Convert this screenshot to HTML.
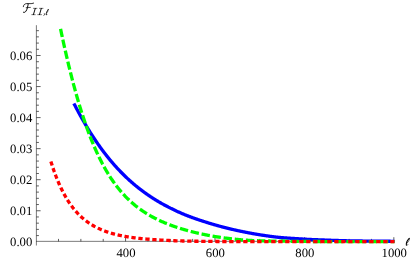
<!DOCTYPE html>
<html><head><title>F II,l plot</title><meta charset="utf-8"><style>
html,body{margin:0;padding:0;background:#fff;}
svg{display:block}
text{font-family:"Liberation Serif",serif;font-size:12.7px;fill:#000}
</style></head><body>
<svg width="420" height="260" viewBox="0 0 420 260">
<rect width="420" height="260" fill="#fff"/>
<g style="text-rendering:geometricPrecision;filter:grayscale(1)">
<text x="125.97" y="257" text-anchor="middle">400</text>
<text x="215.39" y="257" text-anchor="middle">600</text>
<text x="304.81" y="257" text-anchor="middle">800</text>
<text x="394.23" y="257" text-anchor="middle">1000</text>
<text x="32.3" y="246.30" text-anchor="end">0.00</text>
<text x="32.3" y="215.25" text-anchor="end">0.01</text>
<text x="32.3" y="184.20" text-anchor="end">0.02</text>
<text x="32.3" y="153.15" text-anchor="end">0.03</text>
<text x="32.3" y="122.10" text-anchor="end">0.04</text>
<text x="32.3" y="91.05" text-anchor="end">0.05</text>
<text x="32.3" y="60.00" text-anchor="end">0.06</text>
</g>
<g stroke="#333" stroke-width="0.65" fill="none">
<line x1="36" y1="241.35" x2="394.3" y2="241.35"/>
<line x1="36.4" y1="245.5" x2="36.4" y2="25.2"/>
</g>
<g stroke="#1a1a1a" stroke-width="0.7" fill="none">
<line x1="58.50" y1="241.40" x2="58.50" y2="238.90"/>
<line x1="80.86" y1="241.40" x2="80.86" y2="238.90"/>
<line x1="103.21" y1="241.40" x2="103.21" y2="238.90"/>
<line x1="125.57" y1="241.40" x2="125.57" y2="237.20"/>
<line x1="147.92" y1="241.40" x2="147.92" y2="238.90"/>
<line x1="170.28" y1="241.40" x2="170.28" y2="238.90"/>
<line x1="192.63" y1="241.40" x2="192.63" y2="238.90"/>
<line x1="214.99" y1="241.40" x2="214.99" y2="237.20"/>
<line x1="237.34" y1="241.40" x2="237.34" y2="238.90"/>
<line x1="259.70" y1="241.40" x2="259.70" y2="238.90"/>
<line x1="282.05" y1="241.40" x2="282.05" y2="238.90"/>
<line x1="304.41" y1="241.40" x2="304.41" y2="237.20"/>
<line x1="326.76" y1="241.40" x2="326.76" y2="238.90"/>
<line x1="349.12" y1="241.40" x2="349.12" y2="238.90"/>
<line x1="371.48" y1="241.40" x2="371.48" y2="238.90"/>
<line x1="393.83" y1="241.40" x2="393.83" y2="237.20"/>
<line x1="36.40" y1="235.59" x2="38.90" y2="235.59"/>
<line x1="36.40" y1="229.38" x2="38.90" y2="229.38"/>
<line x1="36.40" y1="223.17" x2="38.90" y2="223.17"/>
<line x1="36.40" y1="216.96" x2="38.90" y2="216.96"/>
<line x1="36.40" y1="210.75" x2="40.60" y2="210.75"/>
<line x1="36.40" y1="204.54" x2="38.90" y2="204.54"/>
<line x1="36.40" y1="198.33" x2="38.90" y2="198.33"/>
<line x1="36.40" y1="192.12" x2="38.90" y2="192.12"/>
<line x1="36.40" y1="185.91" x2="38.90" y2="185.91"/>
<line x1="36.40" y1="179.70" x2="40.60" y2="179.70"/>
<line x1="36.40" y1="173.49" x2="38.90" y2="173.49"/>
<line x1="36.40" y1="167.28" x2="38.90" y2="167.28"/>
<line x1="36.40" y1="161.07" x2="38.90" y2="161.07"/>
<line x1="36.40" y1="154.86" x2="38.90" y2="154.86"/>
<line x1="36.40" y1="148.65" x2="40.60" y2="148.65"/>
<line x1="36.40" y1="142.44" x2="38.90" y2="142.44"/>
<line x1="36.40" y1="136.23" x2="38.90" y2="136.23"/>
<line x1="36.40" y1="130.02" x2="38.90" y2="130.02"/>
<line x1="36.40" y1="123.81" x2="38.90" y2="123.81"/>
<line x1="36.40" y1="117.60" x2="40.60" y2="117.60"/>
<line x1="36.40" y1="111.39" x2="38.90" y2="111.39"/>
<line x1="36.40" y1="105.18" x2="38.90" y2="105.18"/>
<line x1="36.40" y1="98.97" x2="38.90" y2="98.97"/>
<line x1="36.40" y1="92.76" x2="38.90" y2="92.76"/>
<line x1="36.40" y1="86.55" x2="40.60" y2="86.55"/>
<line x1="36.40" y1="80.34" x2="38.90" y2="80.34"/>
<line x1="36.40" y1="74.13" x2="38.90" y2="74.13"/>
<line x1="36.40" y1="67.92" x2="38.90" y2="67.92"/>
<line x1="36.40" y1="61.71" x2="38.90" y2="61.71"/>
<line x1="36.40" y1="55.50" x2="40.60" y2="55.50"/>
<line x1="36.40" y1="49.29" x2="38.90" y2="49.29"/>
<line x1="36.40" y1="43.08" x2="38.90" y2="43.08"/>
<line x1="36.40" y1="36.87" x2="38.90" y2="36.87"/>
<line x1="36.40" y1="30.66" x2="38.90" y2="30.66"/>
</g>
<g fill="none" stroke-width="3.3">
<path d="M73.86,103.42 L74.36,104.39 L74.86,105.36 L75.36,106.32 L75.86,107.27 L76.36,108.22 L76.86,109.16 L77.36,110.10 L77.86,111.03 L78.36,111.95 L78.86,112.87 L79.36,113.79 L79.86,114.70 L80.36,115.60 L80.86,116.50 L81.36,117.39 L81.86,118.28 L82.36,119.17 L82.86,120.04 L83.36,120.91 L83.86,121.78 L84.36,122.64 L84.86,123.50 L85.36,124.35 L85.86,125.19 L86.36,126.03 L86.86,126.87 L87.36,127.69 L87.86,128.52 L88.36,129.34 L88.86,130.15 L89.36,130.96 L89.86,131.76 L90.36,132.55 L90.86,133.35 L91.36,134.13 L91.86,134.91 L92.36,135.69 L92.86,136.46 L93.36,137.23 L93.86,137.99 L94.36,138.74 L94.86,139.49 L95.36,140.24 L95.86,140.98 L96.36,141.71 L96.86,142.44 L97.36,143.17 L97.86,143.89 L98.36,144.60 L98.86,145.31 L99.36,146.02 L99.86,146.72 L100.36,147.41 L100.86,148.10 L101.36,148.79 L101.86,149.47 L102.36,150.15 L102.86,150.82 L103.36,151.48 L103.86,152.15 L104.36,152.80 L104.86,153.45 L105.36,154.10 L105.86,154.75 L106.36,155.38 L106.86,156.02 L107.36,156.65 L107.86,157.27 L108.36,157.89 L108.86,158.51 L109.36,159.12 L109.86,159.73 L110.36,160.33 L110.86,160.93 L111.36,161.52 L111.86,162.11 L112.36,162.69 L112.86,163.28 L113.36,163.85 L113.86,164.42 L114.36,164.99 L114.86,165.56 L115.36,166.12 L115.86,166.67 L116.36,167.22 L116.86,167.77 L117.36,168.31 L117.86,168.85 L118.36,169.39 L118.86,169.92 L119.36,170.45 L119.86,170.97 L120.36,171.49 L120.86,172.01 L121.36,172.52 L121.86,173.03 L122.36,173.53 L122.86,174.03 L123.36,174.53 L123.86,175.02 L124.36,175.51 L124.86,176.00 L125.36,176.48 L125.86,176.96 L126.36,177.44 L126.86,177.91 L127.36,178.38 L127.86,178.84 L128.36,179.30 L128.86,179.76 L129.36,180.22 L129.86,180.67 L130.36,181.11 L130.86,181.56 L131.36,182.00 L131.86,182.44 L132.36,182.87 L132.86,183.30 L133.36,183.73 L133.86,184.16 L134.36,184.58 L134.86,185.00 L135.36,185.41 L135.86,185.83 L136.36,186.23 L136.86,186.64 L137.36,187.04 L137.86,187.44 L138.36,187.84 L138.86,188.24 L139.36,188.63 L139.86,189.02 L140.36,189.40 L140.86,189.79 L141.36,190.17 L141.86,190.54 L142.36,190.92 L142.86,191.29 L143.36,191.66 L143.86,192.02 L144.36,192.39 L144.86,192.75 L145.36,193.11 L145.86,193.46 L146.36,193.82 L146.86,194.17 L147.36,194.52 L147.86,194.86 L148.36,195.20 L148.86,195.54 L149.36,195.88 L149.86,196.22 L150.36,196.55 L150.86,196.88 L151.36,197.21 L151.86,197.54 L152.36,197.86 L152.86,198.18 L153.36,198.50 L153.86,198.82 L154.36,199.13 L154.86,199.44 L155.36,199.75 L155.86,200.06 L156.36,200.37 L156.86,200.67 L157.36,200.97 L157.86,201.27 L158.36,201.57 L158.86,201.86 L159.36,202.16 L159.86,202.45 L160.36,202.73 L160.86,203.02 L161.36,203.31 L161.86,203.59 L162.36,203.87 L162.86,204.15 L163.36,204.43 L163.86,204.70 L164.36,204.97 L164.86,205.24 L165.36,205.51 L165.86,205.78 L166.36,206.05 L166.86,206.31 L167.36,206.57 L167.86,206.83 L168.36,207.09 L168.86,207.35 L169.36,207.60 L169.86,207.86 L170.36,208.11 L170.86,208.36 L171.36,208.60 L171.86,208.85 L172.36,209.10 L172.86,209.34 L173.36,209.58 L173.86,209.82 L174.36,210.06 L174.86,210.29 L175.36,210.53 L175.86,210.76 L176.36,210.99 L176.86,211.23 L177.36,211.45 L177.86,211.68 L178.36,211.91 L178.86,212.13 L179.36,212.36 L179.86,212.58 L180.36,212.80 L180.86,213.02 L181.36,213.24 L181.86,213.45 L182.36,213.67 L182.86,213.88 L183.36,214.09 L183.86,214.30 L184.36,214.50 L184.86,214.71 L185.36,214.91 L185.86,215.11 L186.36,215.31 L186.86,215.51 L187.36,215.70 L187.86,215.90 L188.36,216.09 L188.86,216.28 L189.36,216.47 L189.86,216.66 L190.36,216.85 L190.86,217.03 L191.36,217.22 L191.86,217.40 L192.36,217.59 L192.86,217.77 L193.36,217.95 L193.86,218.13 L194.36,218.30 L194.86,218.48 L195.36,218.66 L195.86,218.83 L196.36,219.01 L196.86,219.18 L197.36,219.35 L197.86,219.52 L198.36,219.69 L198.86,219.86 L199.36,220.02 L199.86,220.19 L200.36,220.35 L200.86,220.52 L201.36,220.68 L201.86,220.84 L202.36,221.00 L202.86,221.16 L203.36,221.32 L203.86,221.48 L204.36,221.64 L204.86,221.80 L205.36,221.96 L205.86,222.12 L206.36,222.28 L206.86,222.44 L207.36,222.59 L207.86,222.75 L208.36,222.91 L208.86,223.06 L209.36,223.21 L209.86,223.37 L210.36,223.52 L210.86,223.67 L211.36,223.82 L211.86,223.97 L212.36,224.12 L212.86,224.27 L213.36,224.41 L213.86,224.56 L214.36,224.70 L214.86,224.85 L215.36,224.99 L215.86,225.13 L216.36,225.28 L216.86,225.42 L217.36,225.56 L217.86,225.70 L218.36,225.83 L218.86,225.97 L219.36,226.11 L219.86,226.24 L220.36,226.38 L220.86,226.51 L221.36,226.65 L221.86,226.78 L222.36,226.91 L222.86,227.04 L223.36,227.17 L223.86,227.30 L224.36,227.43 L224.86,227.56 L225.36,227.69 L225.86,227.81 L226.36,227.94 L226.86,228.07 L227.36,228.19 L227.86,228.31 L228.36,228.44 L228.86,228.56 L229.36,228.68 L229.86,228.80 L230.36,228.92 L230.86,229.04 L231.36,229.16 L231.86,229.28 L232.36,229.39 L232.86,229.51 L233.36,229.63 L233.86,229.74 L234.36,229.85 L234.86,229.97 L235.36,230.08 L235.86,230.19 L236.36,230.30 L236.86,230.41 L237.36,230.52 L237.86,230.63 L238.36,230.74 L238.86,230.85 L239.36,230.96 L239.86,231.06 L240.36,231.17 L240.86,231.27 L241.36,231.38 L241.86,231.48 L242.36,231.59 L242.86,231.69 L243.36,231.79 L243.86,231.89 L244.36,231.99 L244.86,232.09 L245.36,232.19 L245.86,232.29 L246.36,232.39 L246.86,232.48 L247.36,232.58 L247.86,232.68 L248.36,232.77 L248.86,232.87 L249.36,232.96 L249.86,233.05 L250.36,233.14 L250.86,233.24 L251.36,233.33 L251.86,233.42 L252.36,233.51 L252.86,233.60 L253.36,233.69 L253.86,233.77 L254.36,233.86 L254.86,233.95 L255.36,234.03 L255.86,234.12 L256.36,234.20 L256.86,234.29 L257.36,234.37 L257.86,234.45 L258.36,234.54 L258.86,234.62 L259.36,234.70 L259.86,234.78 L260.36,234.86 L260.86,234.94 L261.36,235.02 L261.86,235.09 L262.36,235.17 L262.86,235.25 L263.36,235.32 L263.86,235.40 L264.36,235.47 L264.86,235.55 L265.36,235.62 L265.86,235.70 L266.36,235.77 L266.86,235.84 L267.36,235.92 L267.86,235.99 L268.36,236.06 L268.86,236.13 L269.36,236.20 L269.86,236.27 L270.36,236.34 L270.86,236.40 L271.36,236.47 L271.86,236.53 L272.36,236.60 L272.86,236.66 L273.36,236.72 L273.86,236.79 L274.36,236.85 L274.86,236.91 L275.36,236.96 L275.86,237.02 L276.36,237.08 L276.86,237.13 L277.36,237.19 L277.86,237.24 L278.36,237.29 L278.86,237.34 L279.36,237.39 L279.86,237.44 L280.36,237.48 L280.86,237.53 L281.36,237.57 L281.86,237.62 L282.36,237.66 L282.86,237.70 L283.36,237.74 L283.86,237.78 L284.36,237.82 L284.86,237.86 L285.36,237.90 L285.86,237.93 L286.36,237.97 L286.86,238.01 L287.36,238.04 L287.86,238.08 L288.36,238.11 L288.86,238.15 L289.36,238.18 L289.86,238.21 L290.36,238.25 L290.86,238.28 L291.36,238.31 L291.86,238.34 L292.36,238.37 L292.86,238.41 L293.36,238.44 L293.86,238.47 L294.36,238.50 L294.86,238.53 L295.36,238.56 L295.86,238.59 L296.36,238.62 L296.86,238.66 L297.36,238.69 L297.86,238.72 L298.36,238.75 L298.86,238.78 L299.36,238.81 L299.86,238.84 L300.36,238.87 L300.86,238.90 L301.36,238.94 L301.86,238.97 L302.36,239.00 L302.86,239.03 L303.36,239.07 L303.86,239.10 L304.36,239.13 L304.86,239.16 L305.36,239.19 L305.86,239.22 L306.36,239.25 L306.86,239.28 L307.36,239.31 L307.86,239.34 L308.36,239.37 L308.86,239.39 L309.36,239.42 L309.86,239.44 L310.36,239.47 L310.86,239.49 L311.36,239.51 L311.86,239.53 L312.36,239.56 L312.86,239.58 L313.36,239.60 L313.86,239.62 L314.36,239.64 L314.86,239.65 L315.36,239.67 L315.86,239.69 L316.36,239.71 L316.86,239.73 L317.36,239.75 L317.86,239.77 L318.36,239.79 L318.86,239.81 L319.36,239.83 L319.86,239.84 L320.36,239.86 L320.86,239.88 L321.36,239.90 L321.86,239.92 L322.36,239.94 L322.86,239.96 L323.36,239.98 L323.86,240.00 L324.36,240.02 L324.86,240.04 L325.36,240.06 L325.86,240.08 L326.36,240.09 L326.86,240.11 L327.36,240.13 L327.86,240.15 L328.36,240.17 L328.86,240.19 L329.36,240.20 L329.86,240.22 L330.36,240.24 L330.86,240.26 L331.36,240.28 L331.86,240.29 L332.36,240.31 L332.86,240.33 L333.36,240.34 L333.86,240.36 L334.36,240.38 L334.86,240.40 L335.36,240.41 L335.86,240.43 L336.36,240.45 L336.86,240.46 L337.36,240.48 L337.86,240.50 L338.36,240.52 L338.86,240.53 L339.36,240.55 L339.86,240.57 L340.36,240.59 L340.86,240.60 L341.36,240.62 L341.86,240.64 L342.36,240.65 L342.86,240.67 L343.36,240.68 L343.86,240.70 L344.36,240.71 L344.86,240.73 L345.36,240.74 L345.86,240.76 L346.36,240.77 L346.86,240.78 L347.36,240.79 L347.86,240.81 L348.36,240.82 L348.86,240.83 L349.36,240.84 L349.86,240.85 L350.36,240.86 L350.86,240.87 L351.36,240.87 L351.86,240.88 L352.36,240.89 L352.86,240.90 L353.36,240.91 L353.86,240.91 L354.36,240.92 L354.86,240.93 L355.36,240.94 L355.86,240.94 L356.36,240.95 L356.86,240.96 L357.36,240.96 L357.86,240.97 L358.36,240.97 L358.86,240.98 L359.36,240.99 L359.86,240.99 L360.36,241.00 L360.86,241.00 L361.36,241.01 L361.86,241.02 L362.36,241.02 L362.86,241.03 L363.36,241.03 L363.86,241.04 L364.36,241.04 L364.86,241.05 L365.36,241.05 L365.86,241.06 L366.36,241.06 L366.86,241.07 L367.36,241.07 L367.86,241.08 L368.36,241.08 L368.86,241.09 L369.36,241.09 L369.86,241.10 L370.36,241.10 L370.86,241.11 L371.36,241.11 L371.86,241.12 L372.36,241.12 L372.86,241.13 L373.36,241.13 L373.86,241.14 L374.36,241.14 L374.86,241.15 L375.36,241.15 L375.86,241.16 L376.36,241.16 L376.86,241.17 L377.36,241.17 L377.86,241.17 L378.36,241.18 L378.86,241.18 L379.36,241.19 L379.86,241.19 L380.36,241.20 L380.86,241.20 L381.36,241.20 L381.86,241.21 L382.36,241.21 L382.86,241.22 L383.36,241.22 L383.86,241.22 L384.36,241.23 L384.86,241.23 L385.36,241.24 L385.86,241.24 L386.36,241.24 L386.86,241.25 L387.36,241.25 L387.86,241.25 L388.36,241.26 L388.86,241.26 L389.36,241.27 L389.86,241.27 L390.36,241.27 L390.86,241.28 L391.36,241.28 L391.86,241.28 L392.36,241.29 L392.86,241.29 L393.36,241.29 L393.86,241.30 L394.36,241.30 L394.50,241.30" stroke="#0000ff"/>
<path d="M60.53,28.80 L61.03,31.18 L61.53,33.54 L62.03,35.88 L62.53,38.20 L63.03,40.50 L63.53,42.78 L64.03,45.04 L64.53,47.28 L65.03,49.51 L65.53,51.71 L66.03,53.89 L66.53,56.06 L67.03,58.20 L67.53,60.33 L68.03,62.44 L68.53,64.53 L69.03,66.60 L69.53,68.64 L70.03,70.67 L70.53,72.68 L71.03,74.66 L71.53,76.63 L72.03,78.58 L72.53,80.51 L73.03,82.42 L73.53,84.31 L74.03,86.19 L74.53,88.04 L75.03,89.87 L75.53,91.68 L76.03,93.47 L76.53,95.25 L77.03,97.00 L77.53,98.74 L78.03,100.46 L78.53,102.16 L79.03,103.84 L79.53,105.50 L80.03,107.14 L80.53,108.76 L81.03,110.37 L81.53,111.95 L82.03,113.52 L82.53,115.07 L83.03,116.61 L83.53,118.12 L84.03,119.62 L84.53,121.10 L85.03,122.57 L85.53,124.01 L86.03,125.44 L86.53,126.85 L87.03,128.25 L87.53,129.62 L88.03,130.99 L88.53,132.33 L89.03,133.66 L89.53,134.98 L90.03,136.27 L90.53,137.55 L91.03,138.82 L91.53,140.07 L92.03,141.30 L92.53,142.52 L93.03,143.73 L93.53,144.92 L94.03,146.09 L94.53,147.26 L95.03,148.40 L95.53,149.53 L96.03,150.65 L96.53,151.75 L97.03,152.84 L97.53,153.92 L98.03,154.98 L98.53,156.03 L99.03,157.06 L99.53,158.09 L100.03,159.10 L100.53,160.09 L101.03,161.07 L101.53,162.05 L102.03,163.00 L102.53,163.95 L103.03,164.89 L103.53,165.81 L104.03,166.72 L104.53,167.62 L105.03,168.51 L105.53,169.38 L106.03,170.25 L106.53,171.10 L107.03,171.94 L107.53,172.77 L108.03,173.59 L108.53,174.40 L109.03,175.20 L109.53,175.99 L110.03,176.77 L110.53,177.54 L111.03,178.30 L111.53,179.05 L112.03,179.79 L112.53,180.52 L113.03,181.24 L113.53,181.95 L114.03,182.66 L114.53,183.35 L115.03,184.03 L115.53,184.71 L116.03,185.38 L116.53,186.03 L117.03,186.68 L117.53,187.32 L118.03,187.96 L118.53,188.58 L119.03,189.20 L119.53,189.81 L120.03,190.41 L120.53,191.00 L121.03,191.59 L121.53,192.17 L122.03,192.74 L122.53,193.30 L123.03,193.86 L123.53,194.41 L124.03,194.95 L124.53,195.48 L125.03,196.01 L125.53,196.54 L126.03,197.05 L126.53,197.56 L127.03,198.06 L127.53,198.56 L128.03,199.05 L128.53,199.53 L129.03,200.01 L129.53,200.48 L130.03,200.95 L130.53,201.41 L131.03,201.86 L131.53,202.31 L132.03,202.75 L132.53,203.19 L133.03,203.62 L133.53,204.05 L134.03,204.47 L134.53,204.88 L135.03,205.30 L135.53,205.70 L136.03,206.10 L136.53,206.50 L137.03,206.89 L137.53,207.28 L138.03,207.66 L138.53,208.04 L139.03,208.41 L139.53,208.78 L140.03,209.14 L140.53,209.50 L141.03,209.86 L141.53,210.21 L142.03,210.56 L142.53,210.90 L143.03,211.24 L143.53,211.57 L144.03,211.90 L144.53,212.23 L145.03,212.55 L145.53,212.87 L146.03,213.19 L146.53,213.50 L147.03,213.81 L147.53,214.12 L148.03,214.42 L148.53,214.72 L149.03,215.01 L149.53,215.30 L150.03,215.59 L150.53,215.88 L151.03,216.16 L151.53,216.44 L152.03,216.71 L152.53,216.98 L153.03,217.25 L153.53,217.52 L154.03,217.78 L154.53,218.05 L155.03,218.30 L155.53,218.56 L156.03,218.81 L156.53,219.06 L157.03,219.31 L157.53,219.55 L158.03,219.79 L158.53,220.03 L159.03,220.27 L159.53,220.51 L160.03,220.74 L160.53,220.97 L161.03,221.19 L161.53,221.42 L162.03,221.64 L162.53,221.86 L163.03,222.08 L163.53,222.30 L164.03,222.51 L164.53,222.72 L165.03,222.93 L165.53,223.14 L166.03,223.34 L166.53,223.55 L167.03,223.75 L167.53,223.95 L168.03,224.14 L168.53,224.34 L169.03,224.53 L169.53,224.72 L170.03,224.91 L170.53,225.10 L171.03,225.29 L171.53,225.47 L172.03,225.65 L172.53,225.83 L173.03,226.01 L173.53,226.19 L174.03,226.37 L174.53,226.54 L175.03,226.71 L175.53,226.88 L176.03,227.05 L176.53,227.22 L177.03,227.39 L177.53,227.55 L178.03,227.72 L178.53,227.88 L179.03,228.04 L179.53,228.20 L180.03,228.35 L180.53,228.51 L181.03,228.67 L181.53,228.82 L182.03,228.97 L182.53,229.12 L183.03,229.27 L183.53,229.42 L184.03,229.57 L184.53,229.71 L185.03,229.85 L185.53,230.00 L186.03,230.14 L186.53,230.28 L187.03,230.42 L187.53,230.56 L188.03,230.69 L188.53,230.83 L189.03,230.96 L189.53,231.10 L190.03,231.23 L190.53,231.36 L191.03,231.49 L191.53,231.62 L192.03,231.74 L192.53,231.87 L193.03,232.00 L193.53,232.12 L194.03,232.24 L194.53,232.37 L195.03,232.49 L195.53,232.61 L196.03,232.73 L196.53,232.84 L197.03,232.96 L197.53,233.08 L198.03,233.19 L198.53,233.30 L199.03,233.42 L199.53,233.53 L200.03,233.64 L200.53,233.75 L201.03,233.86 L201.53,233.97 L202.03,234.07 L202.53,234.18 L203.03,234.28 L203.53,234.39 L204.03,234.49 L204.53,234.59 L205.03,234.69 L205.53,234.79 L206.03,234.89 L206.53,234.99 L207.03,235.09 L207.53,235.19 L208.03,235.28 L208.53,235.38 L209.03,235.47 L209.53,235.56 L210.03,235.65 L210.53,235.75 L211.03,235.84 L211.53,235.92 L212.03,236.01 L212.53,236.10 L213.03,236.19 L213.53,236.27 L214.03,236.36 L214.53,236.44 L215.03,236.52 L215.53,236.61 L216.03,236.69 L216.53,236.77 L217.03,236.85 L217.53,236.93 L218.03,237.00 L218.53,237.08 L219.03,237.16 L219.53,237.23 L220.03,237.31 L220.53,237.38 L221.03,237.45 L221.53,237.53 L222.03,237.60 L222.53,237.67 L223.03,237.74 L223.53,237.80 L224.03,237.87 L224.53,237.94 L225.03,238.01 L225.53,238.07 L226.03,238.13 L226.53,238.20 L227.03,238.26 L227.53,238.32 L228.03,238.38 L228.53,238.44 L229.03,238.50 L229.53,238.56 L230.03,238.62 L230.53,238.68 L231.03,238.74 L231.53,238.80 L232.03,238.85 L232.53,238.91 L233.03,238.97 L233.53,239.03 L234.03,239.08 L234.53,239.14 L235.03,239.19 L235.53,239.25 L236.03,239.30 L236.53,239.35 L237.03,239.40 L237.53,239.45 L238.03,239.50 L238.53,239.55 L239.03,239.60 L239.53,239.64 L240.03,239.69 L240.53,239.73 L241.03,239.78 L241.53,239.82 L242.03,239.86 L242.53,239.90 L243.03,239.94 L243.53,239.98 L244.03,240.02 L244.53,240.06 L245.03,240.09 L245.53,240.13 L246.03,240.16 L246.53,240.20 L247.03,240.23 L247.53,240.26 L248.03,240.29 L248.53,240.32 L249.03,240.35 L249.53,240.37 L250.03,240.40 L250.53,240.43 L251.03,240.45 L251.53,240.48 L252.03,240.50 L252.53,240.53 L253.03,240.55 L253.53,240.58 L254.03,240.60 L254.53,240.62 L255.03,240.64 L255.53,240.67 L256.03,240.69 L256.53,240.71 L257.03,240.72 L257.53,240.74 L258.03,240.76 L258.53,240.78 L259.03,240.79 L259.53,240.81 L260.03,240.82 L260.53,240.83 L261.03,240.85 L261.53,240.86 L262.03,240.87 L262.53,240.88 L263.03,240.89 L263.53,240.90 L264.03,240.91 L264.53,240.92 L265.03,240.93 L265.53,240.94 L266.03,240.95 L266.53,240.96 L267.03,240.97 L267.53,240.98 L268.03,240.99 L268.53,241.00 L269.03,241.00 L269.53,241.01 L270.03,241.02 L270.53,241.03 L271.03,241.04 L271.53,241.04 L272.03,241.05 L272.53,241.06 L273.03,241.07 L273.53,241.07 L274.03,241.08 L274.53,241.09 L275.03,241.09 L275.53,241.10 L276.03,241.11 L276.53,241.11 L277.03,241.12 L277.53,241.13 L278.03,241.13 L278.53,241.14 L279.03,241.15 L279.53,241.15 L280.03,241.16 L280.53,241.16 L281.03,241.17 L281.53,241.18 L282.03,241.18 L282.53,241.19 L283.03,241.19 L283.53,241.20 L284.03,241.21 L284.53,241.21 L285.03,241.22 L285.53,241.23 L286.03,241.23 L286.53,241.24 L287.03,241.25 L287.53,241.25 L288.03,241.26 L288.53,241.27 L289.03,241.27 L289.53,241.28 L290.03,241.29 L290.53,241.29 L291.03,241.30 L291.53,241.31 L292.03,241.31 L292.53,241.32 L293.03,241.33 L293.53,241.33 L294.03,241.34 L294.53,241.34 L295.03,241.35 L295.53,241.36 L296.03,241.36 L296.53,241.37 L297.03,241.37 L297.53,241.38 L298.03,241.38 L298.53,241.39 L299.03,241.39 L299.53,241.40 L300.03,241.40 L300.53,241.40 L301.03,241.41 L301.53,241.41 L302.03,241.42 L302.53,241.42 L303.03,241.43 L303.53,241.43 L304.03,241.43 L304.53,241.44 L305.03,241.44 L305.53,241.44 L306.03,241.45 L306.53,241.45 L307.03,241.45 L307.53,241.46 L308.03,241.46 L308.53,241.46 L309.03,241.47 L309.53,241.47 L310.03,241.47 L310.53,241.48 L311.03,241.48 L311.53,241.48 L312.03,241.49 L312.53,241.49 L313.03,241.49 L313.53,241.49 L314.03,241.50 L314.53,241.50 L315.03,241.50 L315.53,241.50 L316.03,241.51 L316.53,241.51 L317.03,241.51 L317.53,241.51 L318.03,241.51 L318.53,241.52 L319.03,241.52 L319.53,241.52 L320.03,241.52 L320.53,241.52 L321.03,241.53 L321.53,241.53 L322.03,241.53 L322.53,241.53 L323.03,241.53 L323.53,241.53 L324.03,241.53 L324.53,241.54 L325.03,241.54 L325.53,241.54 L326.03,241.54 L326.53,241.54 L327.03,241.54 L327.53,241.54 L328.03,241.55 L328.53,241.55 L329.03,241.55 L329.53,241.55 L330.03,241.55 L330.53,241.55 L331.03,241.55 L331.53,241.55 L332.03,241.55 L332.53,241.56 L333.03,241.56 L333.53,241.56 L334.03,241.56 L334.53,241.56 L335.03,241.56 L335.53,241.56 L336.03,241.56 L336.53,241.56 L337.03,241.56 L337.53,241.56 L338.03,241.56 L338.53,241.57 L339.03,241.57 L339.53,241.57 L340.03,241.57 L340.53,241.57 L341.03,241.57 L341.53,241.57 L342.03,241.57 L342.53,241.57 L343.03,241.57 L343.53,241.57 L344.03,241.57 L344.53,241.57 L345.03,241.57 L345.53,241.57 L346.03,241.57 L346.53,241.58 L347.03,241.58 L347.53,241.58 L348.03,241.58 L348.53,241.58 L349.03,241.58 L349.53,241.58 L350.03,241.58 L350.53,241.58 L351.03,241.58 L351.53,241.58 L352.03,241.58 L352.53,241.58 L353.03,241.58 L353.53,241.58 L354.03,241.58 L354.53,241.58 L355.03,241.58 L355.53,241.58 L356.03,241.58 L356.53,241.58 L357.03,241.58 L357.53,241.58 L358.03,241.58 L358.53,241.58 L359.03,241.58 L359.53,241.59 L360.03,241.59 L360.53,241.59 L361.03,241.59 L361.53,241.59 L362.03,241.59 L362.53,241.59 L363.03,241.59 L363.53,241.59 L364.03,241.59 L364.53,241.59 L365.03,241.59 L365.53,241.59 L366.03,241.59 L366.53,241.59 L367.03,241.59 L367.53,241.59 L368.03,241.59 L368.53,241.59 L369.03,241.59 L369.53,241.59 L370.03,241.59 L370.53,241.59 L371.03,241.59 L371.53,241.59 L372.03,241.59 L372.53,241.59 L373.03,241.59 L373.53,241.59 L374.03,241.59 L374.53,241.59 L375.03,241.59 L375.53,241.59 L376.03,241.59 L376.53,241.59 L377.03,241.59 L377.53,241.59 L378.03,241.59 L378.53,241.59 L379.03,241.59 L379.53,241.59 L380.03,241.59 L380.53,241.59 L381.03,241.59 L381.53,241.59 L382.03,241.59 L382.53,241.59 L383.03,241.59 L383.53,241.59 L384.03,241.59 L384.53,241.59 L385.03,241.59 L385.53,241.59 L386.03,241.59 L386.53,241.59 L387.03,241.59 L387.53,241.59 L388.03,241.59 L388.53,241.60 L389.03,241.60 L389.53,241.60 L390.03,241.60 L390.53,241.60 L391.03,241.60 L391.53,241.60 L392.03,241.60 L392.53,241.60 L393.03,241.60 L393.53,241.60 L394.03,241.60 L394.50,241.60" stroke="#00ff00" stroke-dasharray="8.4 2.77"/>
<path d="M50.87,161.45 L51.37,163.05 L51.87,164.61 L52.37,166.14 L52.87,167.64 L53.37,169.11 L53.87,170.54 L54.37,171.95 L54.87,173.32 L55.37,174.67 L55.87,175.98 L56.37,177.27 L56.87,178.54 L57.37,179.77 L57.87,180.98 L58.37,182.17 L58.87,183.33 L59.37,184.46 L59.87,185.58 L60.37,186.67 L60.87,187.73 L61.37,188.78 L61.87,189.80 L62.37,190.80 L62.87,191.78 L63.37,192.74 L63.87,193.68 L64.37,194.61 L64.87,195.51 L65.37,196.39 L65.87,197.26 L66.37,198.11 L66.87,198.94 L67.37,199.75 L67.87,200.55 L68.37,201.33 L68.87,202.10 L69.37,202.85 L69.87,203.58 L70.37,204.31 L70.87,205.01 L71.37,205.70 L71.87,206.38 L72.37,207.04 L72.87,207.70 L73.37,208.33 L73.87,208.96 L74.37,209.57 L74.87,210.17 L75.37,210.76 L75.87,211.34 L76.37,211.90 L76.87,212.46 L77.37,213.00 L77.87,213.53 L78.37,214.05 L78.87,214.56 L79.37,215.07 L79.87,215.56 L80.37,216.04 L80.87,216.51 L81.37,216.98 L81.87,217.43 L82.37,217.87 L82.87,218.31 L83.37,218.74 L83.87,219.16 L84.37,219.57 L84.87,219.97 L85.37,220.37 L85.87,220.76 L86.37,221.14 L86.87,221.51 L87.37,221.88 L87.87,222.24 L88.37,222.59 L88.87,222.94 L89.37,223.27 L89.87,223.61 L90.37,223.93 L90.87,224.25 L91.37,224.57 L91.87,224.87 L92.37,225.17 L92.87,225.47 L93.37,225.76 L93.87,226.05 L94.37,226.33 L94.87,226.60 L95.37,226.87 L95.87,227.13 L96.37,227.39 L96.87,227.65 L97.37,227.89 L97.87,228.14 L98.37,228.38 L98.87,228.61 L99.37,228.85 L99.87,229.07 L100.37,229.29 L100.87,229.51 L101.37,229.73 L101.87,229.94 L102.37,230.14 L102.87,230.35 L103.37,230.54 L103.87,230.74 L104.37,230.93 L104.87,231.12 L105.37,231.30 L105.87,231.48 L106.37,231.66 L106.87,231.84 L107.37,232.01 L107.87,232.17 L108.37,232.34 L108.87,232.50 L109.37,232.66 L109.87,232.82 L110.37,232.97 L110.87,233.12 L111.37,233.27 L111.87,233.41 L112.37,233.55 L112.87,233.69 L113.37,233.83 L113.87,233.96 L114.37,234.10 L114.87,234.23 L115.37,234.35 L115.87,234.48 L116.37,234.60 L116.87,234.72 L117.37,234.84 L117.87,234.96 L118.37,235.07 L118.87,235.18 L119.37,235.29 L119.87,235.40 L120.37,235.50 L120.87,235.61 L121.37,235.71 L121.87,235.81 L122.37,235.91 L122.87,236.01 L123.37,236.10 L123.87,236.19 L124.37,236.29 L124.87,236.38 L125.37,236.46 L125.87,236.55 L126.37,236.64 L126.87,236.72 L127.37,236.80 L127.87,236.88 L128.37,236.96 L128.87,237.04 L129.37,237.12 L129.87,237.19 L130.37,237.26 L130.87,237.34 L131.37,237.41 L131.87,237.48 L132.37,237.55 L132.87,237.61 L133.37,237.68 L133.87,237.75 L134.37,237.81 L134.87,237.87 L135.37,237.93 L135.87,237.99 L136.37,238.05 L136.87,238.11 L137.37,238.17 L137.87,238.23 L138.37,238.28 L138.87,238.33 L139.37,238.39 L139.87,238.44 L140.37,238.49 L140.87,238.54 L141.37,238.59 L141.87,238.64 L142.37,238.69 L142.87,238.74 L143.37,238.78 L143.87,238.83 L144.37,238.87 L144.87,238.92 L145.37,238.96 L145.87,239.00 L146.37,239.04 L146.87,239.08 L147.37,239.12 L147.87,239.16 L148.37,239.20 L148.87,239.24 L149.37,239.27 L149.87,239.31 L150.37,239.35 L150.87,239.39 L151.37,239.42 L151.87,239.46 L152.37,239.50 L152.87,239.53 L153.37,239.57 L153.87,239.61 L154.37,239.64 L154.87,239.68 L155.37,239.71 L155.87,239.75 L156.37,239.78 L156.87,239.81 L157.37,239.85 L157.87,239.88 L158.37,239.91 L158.87,239.95 L159.37,239.98 L159.87,240.01 L160.37,240.04 L160.87,240.07 L161.37,240.10 L161.87,240.13 L162.37,240.16 L162.87,240.18 L163.37,240.21 L163.87,240.24 L164.37,240.27 L164.87,240.29 L165.37,240.32 L165.87,240.34 L166.37,240.37 L166.87,240.40 L167.37,240.42 L167.87,240.45 L168.37,240.47 L168.87,240.49 L169.37,240.52 L169.87,240.54 L170.37,240.56 L170.87,240.58 L171.37,240.61 L171.87,240.63 L172.37,240.65 L172.87,240.67 L173.37,240.69 L173.87,240.71 L174.37,240.73 L174.87,240.75 L175.37,240.76 L175.87,240.78 L176.37,240.80 L176.87,240.82 L177.37,240.83 L177.87,240.85 L178.37,240.86 L178.87,240.88 L179.37,240.89 L179.87,240.91 L180.37,240.92 L180.87,240.94 L181.37,240.95 L181.87,240.97 L182.37,240.98 L182.87,240.99 L183.37,241.01 L183.87,241.02 L184.37,241.03 L184.87,241.04 L185.37,241.05 L185.87,241.07 L186.37,241.08 L186.87,241.09 L187.37,241.10 L187.87,241.11 L188.37,241.12 L188.87,241.13 L189.37,241.14 L189.87,241.15 L190.37,241.16 L190.87,241.17 L191.37,241.17 L191.87,241.18 L192.37,241.19 L192.87,241.20 L193.37,241.21 L193.87,241.21 L194.37,241.22 L194.87,241.23 L195.37,241.24 L195.87,241.24 L196.37,241.25 L196.87,241.26 L197.37,241.26 L197.87,241.27 L198.37,241.28 L198.87,241.28 L199.37,241.29 L199.87,241.30 L200.37,241.31 L200.87,241.31 L201.37,241.32 L201.87,241.33 L202.37,241.33 L202.87,241.34 L203.37,241.35 L203.87,241.35 L204.37,241.36 L204.87,241.36 L205.37,241.37 L205.87,241.38 L206.37,241.38 L206.87,241.39 L207.37,241.39 L207.87,241.40 L208.37,241.40 L208.87,241.41 L209.37,241.42 L209.87,241.42 L210.37,241.43 L210.87,241.43 L211.37,241.44 L211.87,241.44 L212.37,241.44 L212.87,241.45 L213.37,241.45 L213.87,241.46 L214.37,241.46 L214.87,241.47 L215.37,241.47 L215.87,241.47 L216.37,241.48 L216.87,241.48 L217.37,241.48 L217.87,241.49 L218.37,241.49 L218.87,241.49 L219.37,241.50 L219.87,241.50 L220.37,241.50 L220.87,241.50 L221.37,241.51 L221.87,241.51 L222.37,241.51 L222.87,241.52 L223.37,241.52 L223.87,241.52 L224.37,241.52 L224.87,241.52 L225.37,241.53 L225.87,241.53 L226.37,241.53 L226.87,241.53 L227.37,241.53 L227.87,241.54 L228.37,241.54 L228.87,241.54 L229.37,241.54 L229.87,241.54 L230.37,241.55 L230.87,241.55 L231.37,241.55 L231.87,241.55 L232.37,241.55 L232.87,241.55 L233.37,241.55 L233.87,241.56 L234.37,241.56 L234.87,241.56 L235.37,241.56 L235.87,241.56 L236.37,241.56 L236.87,241.56 L237.37,241.56 L237.87,241.57 L238.37,241.57 L238.87,241.57 L239.37,241.57 L239.87,241.57 L240.37,241.57 L240.87,241.57 L241.37,241.57 L241.87,241.57 L242.37,241.57 L242.87,241.58 L243.37,241.58 L243.87,241.58 L244.37,241.58 L244.87,241.58 L245.37,241.58 L245.87,241.58 L246.37,241.58 L246.87,241.58 L247.37,241.58 L247.87,241.58 L248.37,241.58 L248.87,241.59 L249.37,241.59 L249.87,241.59 L250.37,241.59 L250.87,241.59 L251.37,241.59 L251.87,241.59 L252.37,241.59 L252.87,241.59 L253.37,241.59 L253.87,241.59 L254.37,241.59 L254.87,241.59 L255.37,241.59 L255.87,241.59 L256.37,241.59 L256.87,241.59 L257.37,241.59 L257.87,241.59 L258.37,241.59 L258.87,241.59 L259.37,241.59 L259.87,241.59 L260.37,241.59 L260.87,241.59 L261.37,241.59 L261.87,241.59 L262.37,241.59 L262.87,241.60 L263.37,241.60 L263.87,241.60 L264.37,241.60 L264.87,241.60 L265.37,241.60 L265.87,241.60 L266.37,241.60 L266.87,241.60 L267.37,241.60 L267.87,241.60 L268.37,241.60 L268.87,241.60 L269.37,241.60 L269.87,241.60 L270.37,241.60 L270.87,241.60 L271.37,241.60 L271.87,241.60 L272.37,241.60 L272.87,241.60 L273.37,241.60 L273.87,241.60 L274.37,241.60 L274.87,241.60 L275.37,241.60 L275.87,241.60 L276.37,241.60 L276.87,241.60 L277.37,241.60 L277.87,241.60 L278.37,241.60 L278.87,241.60 L279.37,241.60 L279.87,241.60 L280.37,241.60 L280.87,241.60 L281.37,241.60 L281.87,241.60 L282.37,241.60 L282.87,241.60 L283.37,241.60 L283.87,241.60 L284.37,241.60 L284.87,241.60 L285.37,241.60 L285.87,241.60 L286.37,241.60 L286.87,241.60 L287.37,241.60 L287.87,241.60 L288.37,241.60 L288.87,241.60 L289.37,241.60 L289.87,241.60 L290.37,241.60 L290.87,241.60 L291.37,241.60 L291.87,241.60 L292.37,241.60 L292.87,241.60 L293.37,241.60 L293.87,241.60 L294.37,241.60 L294.87,241.60 L295.37,241.60 L295.87,241.60 L296.37,241.60 L296.87,241.60 L297.37,241.60 L297.87,241.60 L298.37,241.60 L298.87,241.60 L299.37,241.60 L299.87,241.60 L300.37,241.60 L300.87,241.60 L301.37,241.60 L301.87,241.60 L302.37,241.60 L302.87,241.60 L303.37,241.60 L303.87,241.60 L304.37,241.60 L304.87,241.60 L305.37,241.60 L305.87,241.60 L306.37,241.60 L306.87,241.60 L307.37,241.60 L307.87,241.60 L308.37,241.60 L308.87,241.60 L309.37,241.60 L309.87,241.60 L310.37,241.60 L310.87,241.60 L311.37,241.60 L311.87,241.60 L312.37,241.60 L312.87,241.60 L313.37,241.60 L313.87,241.60 L314.37,241.60 L314.87,241.60 L315.37,241.60 L315.87,241.60 L316.37,241.60 L316.87,241.60 L317.37,241.60 L317.87,241.60 L318.37,241.60 L318.87,241.60 L319.37,241.60 L319.87,241.60 L320.37,241.60 L320.87,241.60 L321.37,241.60 L321.87,241.60 L322.37,241.60 L322.87,241.60 L323.37,241.60 L323.87,241.60 L324.37,241.60 L324.87,241.60 L325.37,241.60 L325.87,241.60 L326.37,241.60 L326.87,241.60 L327.37,241.60 L327.87,241.60 L328.37,241.60 L328.87,241.60 L329.37,241.60 L329.87,241.60 L330.37,241.60 L330.87,241.60 L331.37,241.60 L331.87,241.60 L332.37,241.60 L332.87,241.60 L333.37,241.60 L333.87,241.60 L334.37,241.60 L334.87,241.60 L335.37,241.60 L335.87,241.60 L336.37,241.60 L336.87,241.60 L337.37,241.60 L337.87,241.60 L338.37,241.60 L338.87,241.60 L339.37,241.60 L339.87,241.60 L340.37,241.60 L340.87,241.60 L341.37,241.60 L341.87,241.60 L342.37,241.60 L342.87,241.60 L343.37,241.60 L343.87,241.60 L344.37,241.60 L344.87,241.60 L345.37,241.60 L345.87,241.60 L346.37,241.60 L346.87,241.60 L347.37,241.60 L347.87,241.60 L348.37,241.60 L348.87,241.60 L349.37,241.60 L349.87,241.60 L350.37,241.60 L350.87,241.60 L351.37,241.60 L351.87,241.60 L352.37,241.60 L352.87,241.60 L353.37,241.60 L353.87,241.60 L354.37,241.60 L354.87,241.60 L355.37,241.60 L355.87,241.60 L356.37,241.60 L356.87,241.60 L357.37,241.60 L357.87,241.60 L358.37,241.60 L358.87,241.60 L359.37,241.60 L359.87,241.60 L360.37,241.60 L360.87,241.60 L361.37,241.60 L361.87,241.60 L362.37,241.60 L362.87,241.60 L363.37,241.60 L363.87,241.60 L364.37,241.60 L364.87,241.60 L365.37,241.60 L365.87,241.60 L366.37,241.60 L366.87,241.60 L367.37,241.60 L367.87,241.60 L368.37,241.60 L368.87,241.60 L369.37,241.60 L369.87,241.60 L370.37,241.60 L370.87,241.60 L371.37,241.60 L371.87,241.60 L372.37,241.60 L372.87,241.60 L373.37,241.60 L373.87,241.60 L374.37,241.60 L374.87,241.60 L375.37,241.60 L375.87,241.60 L376.37,241.60 L376.87,241.60 L377.37,241.60 L377.87,241.60 L378.37,241.60 L378.87,241.60 L379.37,241.60 L379.87,241.60 L380.37,241.60 L380.87,241.60 L381.37,241.60 L381.87,241.60 L382.37,241.60 L382.87,241.60 L383.37,241.60 L383.87,241.60 L384.37,241.60 L384.87,241.60 L385.37,241.60 L385.87,241.60 L386.37,241.60 L386.87,241.60 L387.37,241.60 L387.87,241.60 L388.37,241.60 L388.87,241.60 L389.37,241.60 L389.87,241.60 L390.37,241.60 L390.87,241.60 L391.37,241.60 L391.87,241.60 L392.37,241.60 L392.87,241.60 L393.37,241.60 L393.87,241.60 L394.37,241.60 L394.50,241.60" stroke="#ff0000" stroke-dasharray="4.3 2.7"/>
</g>
<g fill="none" stroke="#000" stroke-linecap="round" stroke-linejoin="round">
<path d="M23.3,6.7 C23.2,5.2 24.6,3.7 26.8,3.55 C29.0,3.4 31,4.1 33.6,3.15" stroke-width="0.8"/>
<path d="M28.2,3.9 C27.8,6.5 27.2,9.3 26.0,11.1 C25.3,12.2 24.2,12.8 23.4,12.3" stroke-width="1"/>
<path d="M26.2,7.65 L30.4,7.4" stroke-width="0.7"/>
<path d="M33.5,8.35 L36.9,8.35 M31.8,14.65 L35.2,14.65 M39.5,8.35 L43.0,8.35 M37.8,14.65 L41.5,14.65" stroke-width="0.55"/>
<path d="M35.3,8.4 L33.4,14.6 M41.3,8.4 L39.5,14.6" stroke-width="0.95"/>
<path d="M44.4,13.8 L44.5,14.2 C44.6,14.7 44.4,15.1 44.0,15.4" stroke-width="0.8"/>
<path d="M46.2,14.6 C46.0,13.3 46.9,11.0 48.3,9.4" stroke-width="0.85"/><path d="M48.3,9.4 C48.8,10.0 47.8,11.7 46.6,13.2 M46.2,14.6 C46.5,15.0 47.0,14.8 47.3,14.3" stroke-width="0.5"/>
<path d="M406.35,245.1 C406.1,243.3 407.3,240.4 409.3,238.4" stroke-width="1.05"/><path d="M409.3,238.4 C410.0,239.1 408.7,241.3 406.9,243.4 M406.35,245.1 C406.8,245.6 407.5,245.3 407.9,244.7" stroke-width="0.6"/>
</g>
</svg>
</body></html>
